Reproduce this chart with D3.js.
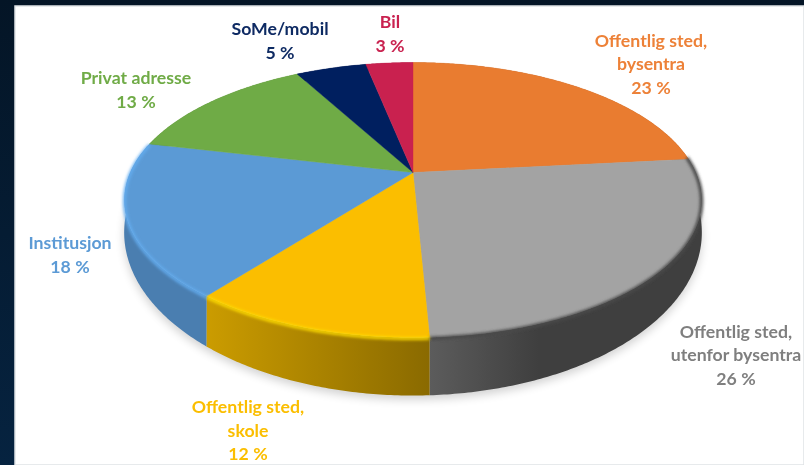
<!DOCTYPE html>
<html><head><meta charset="utf-8">
<script src="https://cdn.jsdelivr.net/npm/d3@7/dist/d3.min.js"></script>
<style>html,body{margin:0;padding:0;background:#051a2e;overflow:hidden}svg{display:block}</style>
</head><body><svg id="c" width="804" height="465"></svg>
<script>
const categories = ["Offentlig sted,\nbysentra","Offentlig sted,\nutenfor bysentra","Offentlig sted,\nskole","Institusjon","Privat adresse","SoMe/mobil","Bil"];
const shares = [23.4,25.9,11.3,18.1,13.4,4.8,3.2];
const labels = ["23 %","26 %","12 %","18 %","13 %","5 %","3 %"];
const sliceColors = ["#e97c30","#a3a3a3","#fbbe00","#5b9ad5","#6fab46","#001f5f","#c9214f"];
const labelColors = ["#ed8137","#7f7f7f","#fbbe00","#5b9ad5","#6fab46","#0f2a63","#c9214f"];
const wallLeft = ["#a5551f","#5c5c5c","#cb9c00","#4a7eb0","#4d7a30","#001040","#8a1538"];
const wallRight = ["#a5551f","#3f3f3f","#8a6a00","#4a7eb0","#4d7a30","#001040","#8a1538"];
const rimColors = [null,"#4a4a4a","#ffdc00","#64adf0",null,null,null];

const cx=413, cy=172.5, k=0.2;
const top3 = {B:282.7, A:132, dy:0};
const base3 = {B:283, A:156.5, dy:27.4};
const proj=(a,p)=>{const x=Math.sin(a),y=Math.cos(a),w=1+k*y;return [cx+p.B*x/w, cy+p.dy-p.A*y/w];};
const centre=[cx,cy];

const svg=d3.select("#c");
const defs=svg.append("defs");
const bg=defs.append("linearGradient").attr("id","bg").attr("x1",0).attr("y1",0).attr("x2",0).attr("y2",1);
bg.append("stop").attr("offset",0).attr("stop-color","#041526");
bg.append("stop").attr("offset",1).attr("stop-color","#062340");
defs.append("filter").attr("id","blurS").attr("x","-10%").attr("y","-10%").attr("width","120%").attr("height","120%").append("feGaussianBlur").attr("stdDeviation",5);
defs.append("filter").attr("id","blurR").attr("x","-10%").attr("y","-10%").attr("width","120%").attr("height","120%").append("feGaussianBlur").attr("stdDeviation",1.6);
defs.append("filter").attr("id","soft").attr("x","-5%").attr("y","-5%").attr("width","110%").attr("height","110%").append("feGaussianBlur").attr("stdDeviation",0.35);

svg.append("rect").attr("width",804).attr("height",465).attr("fill","url(#bg)");
svg.append("rect").attr("x",15).attr("y",6).attr("width",789).attr("height",459).attr("fill","#fff").attr("stroke","#dfe3e6").attr("stroke-width",1.5);

const pie=d3.pie().sort(null).value(d=>d)(shares);
const line=d3.line();
const arcPts=(a0,a1,p)=>{const n=Math.max(2,Math.ceil((a1-a0)/0.01));return d3.range(n+1).map(i=>proj(a0+(a1-a0)*i/n,p));};

// ground shadow
const fullBase=arcPts(0,2*Math.PI,{...base3,dy:base3.dy+4});
svg.append("path").attr("d",line(fullBase)+"Z").attr("fill","#000").attr("opacity",.18).attr("filter","url(#blurS)");

// walls
pie.forEach((d,i)=>{
  const g=defs.append("linearGradient").attr("id","w"+i).attr("gradientUnits","userSpaceOnUse");
  const t=arcPts(d.startAngle,d.endAngle,top3), b=arcPts(d.startAngle,d.endAngle,base3);
  const ext=d3.extent(t,q=>q[0]);
  g.attr("x1",ext[0]).attr("x2",ext[1]).attr("y1",0).attr("y2",0);
  g.append("stop").attr("offset",0).attr("stop-color",wallLeft[i]);
  g.append("stop").attr("offset",i==1?.4:1).attr("stop-color",wallRight[i]);
  svg.append("path").attr("d",line(t.concat(b.reverse()))+"Z").attr("fill",`url(#w${i})`);
});

// top faces
pie.forEach((d,i)=>{
  svg.append("path").attr("d",line([centre,...arcPts(d.startAngle,d.endAngle,top3)])+"Z").attr("fill",sliceColors[i]).attr("stroke",sliceColors[i]).attr("stroke-width",.4);
});

// rim bevel
pie.forEach((d,i)=>{
  if(!rimColors[i])return;
  const s=i==1?d.startAngle-0.02:d.startAngle, e=d.endAngle;
  svg.append("path").attr("d",line(arcPts(s,e,{...top3,dy:1}))).attr("fill","none").attr("stroke",rimColors[i]).attr("stroke-width",i==1?3.5:3).attr("filter","url(#blurR)");
});

// labels
const labelAnchors=[[651,40.5],[736,331.5],[248,407],[70,243],[136,78],[280,29],[390,22]];
const gl=svg.append("g").attr("font-family","Lato, Carlito, sans-serif").attr("font-weight",700).attr("font-size",17.7).attr("text-anchor","middle").attr("filter","url(#soft)");
categories.forEach((c,i)=>{
  const lines=c.split("\n").concat(labels[i]);
  lines.forEach((t,j)=>gl.append("text").attr("x",labelAnchors[i][0]).attr("y",labelAnchors[i][1]+j*23.5).attr("dy","0.35em").attr("fill",labelColors[i]).text(t));
});
</script></body></html>
